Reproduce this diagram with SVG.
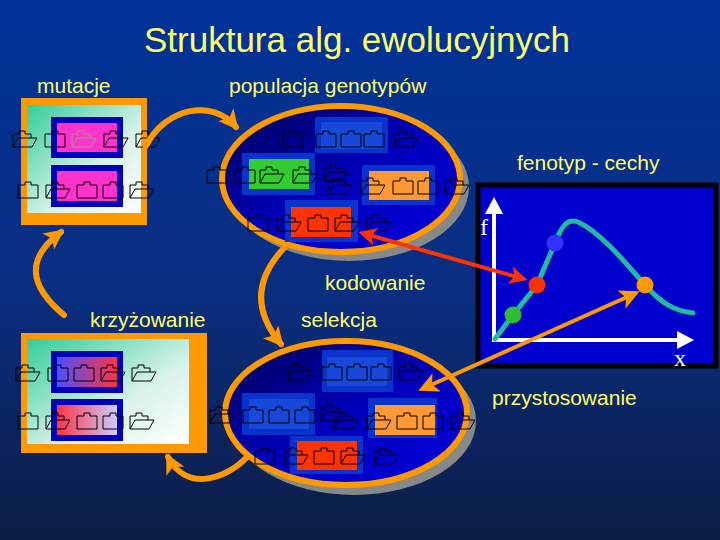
<svg xmlns="http://www.w3.org/2000/svg" xmlns:xlink="http://www.w3.org/1999/xlink" width="720" height="540" viewBox="0 0 720 540">
<defs>
  <linearGradient id="bg" x1="0" y1="0" x2="0" y2="1">
    <stop offset="0" stop-color="#003399"/>
    <stop offset="0.55" stop-color="#0a2d80"/>
    <stop offset="1" stop-color="#0c1d45"/>
  </linearGradient>
  <linearGradient id="boxfill" x1="0" y1="0" x2="1" y2="1">
    <stop offset="0" stop-color="#33cc99"/>
    <stop offset="0.6" stop-color="#d8f2ea"/>
    <stop offset="1" stop-color="#ffffff"/>
  </linearGradient>
  <linearGradient id="ellfill" x1="0" y1="0" x2="1" y2="1">
    <stop offset="0" stop-color="#000055"/>
    <stop offset="0.5" stop-color="#0000bb"/>
    <stop offset="1" stop-color="#0000dd"/>
  </linearGradient>
  <linearGradient id="g1" x1="0" y1="0" x2="1" y2="0">
    <stop offset="0" stop-color="#4d4dff"/>
    <stop offset="1" stop-color="#ff3344"/>
  </linearGradient>
  <linearGradient id="g2" x1="0" y1="0" x2="1" y2="0">
    <stop offset="0" stop-color="#ff3344"/>
    <stop offset="1" stop-color="#ccccff"/>
  </linearGradient>
  <marker id="ao" viewBox="0 0 10 10" refX="8" refY="5" markerWidth="20" markerHeight="20" markerUnits="userSpaceOnUse" orient="auto-start-reverse">
    <path d="M0,0 L10,5 L0,10 L2.5,5 Z" fill="#ff9900"/>
  </marker>
  <marker id="ar" viewBox="0 0 10 10" refX="8" refY="5" markerWidth="18" markerHeight="18" markerUnits="userSpaceOnUse" orient="auto-start-reverse">
    <path d="M0,0 L10,5 L0,10 L2.5,5 Z" fill="#ff3300"/>
  </marker>
  <path id="fc" d="M0,3 H7 V0 H13 V3 H20 V16 H0 Z"/>
  <path id="fo" d="M1,16 V3 H7 V0 H13 V3 H19 V7 M1,16 L6,7 H25 L20,16 Z"/>
</defs>
<style>
  .lbl { font-family: "Liberation Sans", Arial, sans-serif; font-size: 21px; fill: #ffff66; }
  .title { font-family: "Liberation Sans", Arial, sans-serif; font-size: 35px; fill: #ffff66; }
  .ax { font-family: "Liberation Serif", "Times New Roman", serif; font-size: 24px; fill: #ffffff; }
  .fold use { fill: none; stroke: #000000; stroke-width: 1; }
  .orangeB { fill: #ff9900; }
  .inb { fill: #0000bb; }
  .glow { fill: #0a33cc; }
  .ell { fill: url(#ellfill); stroke: #ff9900; stroke-width: 6; }
  .shadow { fill: #888888; }
  .conn-o { fill: none; stroke: #ff9900; stroke-width: 6; stroke-linecap: round; }
  .conn-r { fill: none; stroke: #ff3300; stroke-width: 4; }
</style>
<rect x="0" y="0" width="720" height="540" fill="url(#bg)"/>

<g id="labels">
  <text class="title" x="357" y="52" text-anchor="middle">Struktura alg. ewolucyjnych</text>
  <text class="lbl" x="37" y="93">mutacje</text>
  <text class="lbl" x="229" y="93">populacja genotypów</text>
  <text class="lbl" x="517" y="170">fenotyp - cechy</text>
  <text class="lbl" x="325" y="290">kodowanie</text>
  <text class="lbl" x="90" y="327">krzyżowanie</text>
  <text class="lbl" x="301" y="327">selekcja</text>
  <text class="lbl" x="492" y="405">przystosowanie</text>
</g>

<g id="mutacje-box">
  <rect class="orangeB" x="21" y="98" width="126" height="127"/>
  <rect x="27" y="105" width="114" height="108" fill="url(#boxfill)"/>
  <rect class="inb" x="51" y="117" width="72" height="41"/>
  <rect x="57" y="123" width="60" height="29" fill="#ff33cc"/>
  <rect class="inb" x="51" y="165" width="72" height="42"/>
  <rect x="57" y="171" width="60" height="30" fill="#ff33cc"/>
  <g class="fold">
    <use href="#fo" x="12" y="131"/>
    <use href="#fc" x="45" y="131"/>
    <use href="#fo" x="71" y="131" style="stroke:#999999"/>
    <use href="#fo" x="103" y="131"/>
    <use href="#fo" x="135" y="131"/>
    <use href="#fc" x="18" y="182"/>
    <use href="#fo" x="45" y="182"/>
    <use href="#fc" x="77" y="182"/>
    <use href="#fc" x="103" y="182"/>
    <use href="#fo" x="129" y="182"/>
  </g>
</g>

<g id="populacja">
  <ellipse class="shadow" cx="349" cy="187" rx="120" ry="74"/>
  <ellipse class="ell" cx="341" cy="179" rx="119" ry="73"/>
  <rect class="glow" x="315" y="117" width="73" height="36"/>
  <rect x="321" y="122" width="61" height="27" fill="#1848d8"/>
  <rect class="glow" x="242" y="153" width="73" height="42"/>
  <rect x="249" y="159" width="60" height="30" fill="#33cc33"/>
  <rect class="glow" x="362" y="165" width="73" height="40"/>
  <rect x="369" y="171" width="60" height="29" fill="#ff9933"/>
  <rect class="glow" x="285" y="200" width="73" height="42"/>
  <rect x="291" y="207" width="60" height="30" fill="#ff3300"/>
  <g class="fold">
    <use href="#fc" x="283" y="131"/>
    <use href="#fc" x="316" y="131"/>
    <use href="#fc" x="341" y="131"/>
    <use href="#fc" x="364" y="131"/>
    <use href="#fo" x="393" y="131"/>
    <use href="#fc" x="207" y="167"/>
    <use href="#fc" x="235" y="167"/>
    <use href="#fo" x="259" y="167"/>
    <use href="#fo" x="292" y="167"/>
    <use href="#fo" x="323" y="165"/>
    <use href="#fo" x="327" y="178"/>
    <use href="#fo" x="360" y="178"/>
    <use href="#fc" x="393" y="178"/>
    <use href="#fc" x="418" y="178"/>
    <use href="#fo" x="444" y="178"/>
    <use href="#fc" x="248" y="215"/>
    <use href="#fo" x="276" y="215"/>
    <use href="#fc" x="308" y="215"/>
    <use href="#fo" x="334" y="215"/>
    <use href="#fo" x="366" y="215"/>
  </g>
</g>

<g id="krzyzowanie-box">
  <rect class="orangeB" x="21" y="333" width="186" height="120"/>
  <rect x="27" y="339" width="162" height="105" fill="url(#boxfill)"/>
  <rect class="inb" x="51" y="351" width="72" height="42"/>
  <rect x="57" y="357" width="60" height="30" fill="url(#g1)"/>
  <rect class="inb" x="51" y="399" width="72" height="42"/>
  <rect x="57" y="405" width="60" height="30" fill="url(#g2)"/>
  <g class="fold">
    <use href="#fo" x="15" y="365"/>
    <use href="#fc" x="48" y="365"/>
    <use href="#fc" x="74" y="365"/>
    <use href="#fo" x="100" y="365"/>
    <use href="#fo" x="131" y="365"/>
    <use href="#fc" x="18" y="413"/>
    <use href="#fo" x="45" y="413"/>
    <use href="#fc" x="77" y="413"/>
    <use href="#fc" x="103" y="413"/>
    <use href="#fo" x="129" y="413"/>
  </g>
</g>

<g id="selekcja">
  <ellipse class="shadow" cx="354" cy="421" rx="122" ry="74"/>
  <ellipse class="ell" cx="346" cy="413" rx="121" ry="72"/>
  <rect class="glow" x="322" y="350" width="71" height="42"/>
  <rect x="327" y="357" width="60" height="29" fill="#1848d8"/>
  <rect class="glow" x="242" y="393" width="73" height="42"/>
  <rect x="249" y="399" width="60" height="30" fill="#1848d8"/>
  <rect class="glow" x="368" y="398" width="69" height="40"/>
  <rect x="375" y="405" width="60" height="30" fill="#ff9933"/>
  <rect class="glow" x="290" y="436" width="73" height="38"/>
  <rect x="297" y="441" width="60" height="29" fill="#ff3300"/>
  <g class="fold">
    <use href="#fo" x="287" y="364"/>
    <use href="#fc" x="322" y="364"/>
    <use href="#fc" x="347" y="364"/>
    <use href="#fc" x="371" y="364"/>
    <use href="#fo" x="398" y="364"/>
    <use href="#fo" x="209" y="407"/>
    <use href="#fc" x="243" y="407"/>
    <use href="#fc" x="269" y="407"/>
    <use href="#fc" x="295" y="407"/>
    <use href="#fo" x="320" y="405"/>
    <use href="#fo" x="333" y="413"/>
    <use href="#fo" x="366" y="413"/>
    <use href="#fc" x="397" y="413"/>
    <use href="#fc" x="423" y="413"/>
    <use href="#fo" x="450" y="413"/>
    <use href="#fc" x="255" y="448"/>
    <use href="#fo" x="283" y="448"/>
    <use href="#fc" x="314" y="448"/>
    <use href="#fo" x="340" y="448"/>
    <use href="#fo" x="373" y="448"/>
  </g>
</g>

<g id="fenotyp-plot">
  <rect x="478" y="185" width="238" height="181" fill="#0000cc" stroke="#000000" stroke-width="5"/>
  <line x1="494" y1="341" x2="494" y2="212" stroke="#ffffff" stroke-width="4"/>
  <path d="M494,197 L503,214 L485,214 Z" fill="#ffffff"/>
  <line x1="492" y1="340" x2="678" y2="340" stroke="#ffffff" stroke-width="4"/>
  <path d="M694,340 L677,331 L677,349 Z" fill="#ffffff"/>
  <text class="ax" x="480" y="235">f</text>
  <text class="ax" x="674" y="366">x</text>
  <path d="M495,339 L513,315 L537,285 L555,243 C562,225 568,218 578,222 C600,232 625,262 645,285 C662,304 675,311 693,313" fill="none" stroke="#22bba0" stroke-width="5" stroke-linecap="round" stroke-linejoin="round"/>
  <circle cx="513" cy="315" r="8.5" fill="#33bb33"/>
  <circle cx="537" cy="285" r="8.5" fill="#ff3300"/>
  <circle cx="555" cy="243" r="8.5" fill="#3333ff"/>
  <circle cx="645" cy="285" r="8.5" fill="#ff9900"/>
</g>

<g id="connectors">
  <path class="conn-o" d="M146,146 C165,108 212,98 236,127" marker-end="url(#ao)"/>
  <path class="conn-o" d="M64,315 C28,285 26,258 61,232" marker-end="url(#ao)"/>
  <path class="conn-o" d="M284,248 C254,280 254,312 281,344" marker-end="url(#ao)"/>
  <path class="conn-o" d="M248,456 C226,480 186,492 168,457" marker-end="url(#ao)"/>
  <line class="conn-r" x1="524" y1="279" x2="362" y2="233" marker-start="url(#ar)" marker-end="url(#ar)"/>
  <line x1="636" y1="293" x2="422" y2="389" fill="none" stroke="#ff9900" stroke-width="4" marker-start="url(#ao)" marker-end="url(#ao)"/>
</g>
</svg>
